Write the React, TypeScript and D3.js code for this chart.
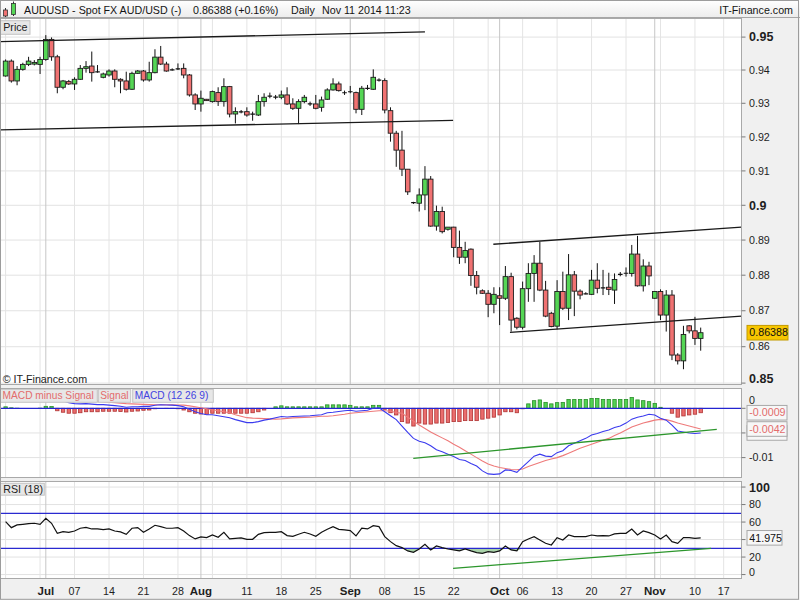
import React, { useEffect } from "react";
import * as d3 from "d3";

// ---------- DATA ----------
// Daily bars (FX: Mon-Fri plus a short Sunday session), year 2014
const dates = [
  "06-23","06-24","06-25","06-26","06-27","06-29",
  "06-30","07-01","07-02","07-03","07-04","07-06",
  "07-07","07-08","07-09","07-10","07-11","07-13",
  "07-14","07-15","07-16","07-17","07-18","07-20",
  "07-21","07-22","07-23","07-24","07-25","07-27",
  "07-28","07-29","07-30","07-31","08-01","08-03",
  "08-04","08-05","08-06","08-07","08-08","08-10",
  "08-11","08-12","08-13","08-14","08-15","08-17",
  "08-18","08-19","08-20","08-21","08-22","08-24",
  "08-25","08-26","08-27","08-28","08-29","08-31",
  "09-01","09-02","09-03","09-04","09-05","09-07",
  "09-08","09-09","09-10","09-11","09-12","09-14",
  "09-15","09-16","09-17","09-18","09-19","09-21",
  "09-22","09-23","09-24","09-25","09-26","09-28",
  "09-29","09-30","10-01","10-02","10-03","10-05",
  "10-06","10-07","10-08","10-09","10-10","10-12",
  "10-13","10-14","10-15","10-16","10-17","10-19",
  "10-20","10-21","10-22","10-23","10-24","10-26",
  "10-27","10-28","10-29","10-30","10-31","11-02",
  "11-03","11-04","11-05","11-06","11-07","11-09",
  "11-10","11-11",
];

const opens = [
  0.9382, 0.9427, 0.9367, 0.9402, 0.9417, 0.9418,
  0.9417, 0.9432, 0.9493, 0.9440, 0.9348, 0.9365,
  0.9358, 0.9372, 0.9405, 0.9412, 0.9395, 0.9378,
  0.9385, 0.9397, 0.9372, 0.9367, 0.9342, 0.9390,
  0.9397, 0.9370, 0.9392, 0.9439, 0.9418, 0.9400,
  0.9403, 0.9405, 0.9385, 0.9325, 0.9298, 0.9312,
  0.9305, 0.9332, 0.9305, 0.9350, 0.9268, 0.9275,
  0.9275, 0.9268, 0.9265, 0.9305, 0.9321, 0.9319,
  0.9318, 0.9325, 0.9298, 0.9285, 0.9305, 0.9299,
  0.9298, 0.9288, 0.9312, 0.9340, 0.9358, 0.9332,
  0.9334, 0.9332, 0.9282, 0.9344, 0.9342, 0.9370,
  0.9368, 0.9278, 0.9211, 0.9161, 0.9105, 0.9008,
  0.9006, 0.9030, 0.9076, 0.8940, 0.8982, 0.8931,
  0.8937, 0.8879, 0.8851, 0.8874, 0.8799, 0.8756,
  0.8749, 0.8718, 0.8742, 0.8735, 0.8796, 0.8679,
  0.8654, 0.8762, 0.8805, 0.8834, 0.8758, 0.8693,
  0.8657, 0.8754, 0.8707, 0.8801, 0.8755, 0.8747,
  0.8746, 0.8786, 0.8765, 0.8766, 0.8758, 0.8802,
  0.8805, 0.8805, 0.8860, 0.8770, 0.8826, 0.8735,
  0.8754, 0.8688, 0.8744, 0.8577, 0.8561, 0.8658,
  0.8644, 0.8623,
];
const highs = [
  0.9432, 0.9432, 0.9412, 0.9422, 0.9440, 0.9430,
  0.9440, 0.9506, 0.9499, 0.9446, 0.9370, 0.9370,
  0.9378, 0.9415, 0.9427, 0.9456, 0.9415, 0.9392,
  0.9402, 0.9402, 0.9375, 0.9395, 0.9395, 0.9400,
  0.9400, 0.9425, 0.9463, 0.9473, 0.9425, 0.9405,
  0.9420, 0.9420, 0.9388, 0.9330, 0.9338, 0.9313,
  0.9338, 0.9348, 0.9375, 0.9352, 0.9288, 0.9280,
  0.9288, 0.9275, 0.9325, 0.9330, 0.9332, 0.9325,
  0.9338, 0.9348, 0.9315, 0.9312, 0.9325, 0.9305,
  0.9325, 0.9320, 0.9345, 0.9375, 0.9365, 0.9338,
  0.9352, 0.9335, 0.9352, 0.9355, 0.9402, 0.9375,
  0.9375, 0.9288, 0.9218, 0.9218, 0.9105, 0.9010,
  0.9049, 0.9114, 0.9085, 0.8999, 0.8996, 0.8937,
  0.8938, 0.8927, 0.8895, 0.8876, 0.8812, 0.8760,
  0.8758, 0.8766, 0.8766, 0.8826, 0.8807, 0.8682,
  0.8782, 0.8834, 0.8857, 0.8895, 0.8784, 0.8697,
  0.8786, 0.8810, 0.8860, 0.8812, 0.8760, 0.8752,
  0.8815, 0.8834, 0.8815, 0.8807, 0.8805, 0.8809,
  0.8822, 0.8886, 0.8912, 0.8845, 0.8838, 0.8755,
  0.8760, 0.8758, 0.8758, 0.8582, 0.8658, 0.8660,
  0.8683, 0.8653,
];
const lows = [
  0.9380, 0.9362, 0.9354, 0.9398, 0.9412, 0.9414,
  0.9388, 0.9428, 0.9428, 0.9330, 0.9342, 0.9355,
  0.9340, 0.9370, 0.9392, 0.9365, 0.9392, 0.9375,
  0.9380, 0.9348, 0.9330, 0.9338, 0.9340, 0.9388,
  0.9365, 0.9365, 0.9390, 0.9415, 0.9395, 0.9398,
  0.9400, 0.9375, 0.9320, 0.9280, 0.9275, 0.9307,
  0.9302, 0.9292, 0.9290, 0.9258, 0.9240, 0.9270,
  0.9260, 0.9248, 0.9262, 0.9290, 0.9315, 0.9312,
  0.9312, 0.9295, 0.9280, 0.9238, 0.9300, 0.9292,
  0.9282, 0.9275, 0.9310, 0.9338, 0.9335, 0.9325,
  0.9330, 0.9270, 0.9265, 0.9340, 0.9340, 0.9365,
  0.9270, 0.9186, 0.9112, 0.9085, 0.9030, 0.9004,
  0.8982, 0.8986, 0.8938, 0.8927, 0.8919, 0.8927,
  0.8851, 0.8832, 0.8834, 0.8770, 0.8746, 0.8747,
  0.8682, 0.8693, 0.8660, 0.8730, 0.8642, 0.8648,
  0.8648, 0.8725, 0.8725, 0.8755, 0.8682, 0.8654,
  0.8648, 0.8702, 0.8674, 0.8685, 0.8732, 0.8746,
  0.8744, 0.8749, 0.8744, 0.8744, 0.8719, 0.8797,
  0.8796, 0.8796, 0.8768, 0.8754, 0.8772, 0.8733,
  0.8674, 0.8642, 0.8563, 0.8551, 0.8538, 0.8637,
  0.8605, 0.8589,
];
const closes = [
  0.9427, 0.9367, 0.9402, 0.9417, 0.9427, 0.9423,
  0.9432, 0.9493, 0.9440, 0.9348, 0.9367, 0.9358,
  0.9372, 0.9405, 0.9410, 0.9392, 0.9394, 0.9388,
  0.9397, 0.9372, 0.9367, 0.9342, 0.9390, 0.9397,
  0.9370, 0.9392, 0.9439, 0.9418, 0.9397, 0.9401,
  0.9404, 0.9385, 0.9325, 0.9298, 0.9315, 0.9308,
  0.9335, 0.9305, 0.9350, 0.9268, 0.9275, 0.9274,
  0.9265, 0.9267, 0.9305, 0.9318, 0.9322, 0.9318,
  0.9325, 0.9298, 0.9285, 0.9305, 0.9318, 0.9298,
  0.9285, 0.9310, 0.9340, 0.9358, 0.9338, 0.9331,
  0.9335, 0.9282, 0.9345, 0.9345, 0.9378, 0.9369,
  0.9280, 0.9211, 0.9161, 0.9105, 0.9039, 0.9007,
  0.9030, 0.9076, 0.8940, 0.8982, 0.8924, 0.8937,
  0.8879, 0.8851, 0.8870, 0.8799, 0.8766, 0.8749,
  0.8718, 0.8746, 0.8735, 0.8796, 0.8674, 0.8654,
  0.8762, 0.8805, 0.8834, 0.8758, 0.8685, 0.8656,
  0.8754, 0.8707, 0.8801, 0.8755, 0.8744, 0.8748,
  0.8786, 0.8763, 0.8764, 0.8760, 0.8788, 0.8803,
  0.8806, 0.8860, 0.8770, 0.8826, 0.8798, 0.8754,
  0.8688, 0.8744, 0.8577, 0.8561, 0.8634, 0.8644,
  0.8623, 0.86388,
];

// MACD (12 26 9), values in thousandths
const macdLine = [
  2.6, 2.45, 2.4, 2.4, 2.4, 2.4,
  2.45, 2.95, 2.95, 2.0, 1.55, 1.15,
  0.95, 0.9, 0.95, 0.85, 0.75, 0.75,
  0.65, 0.55, 0.4, 0.2, 0.3, 0.3,
  0.4, 0.4, 0.62, 0.72, 0.67, 0.65,
  0.55, 0.3, -0.2, -0.7, -1.05, -1.3,
  -1.3, -1.5, -1.7, -1.9, -2.3, -2.6,
  -2.9, -2.9, -2.7, -2.4, -2.2, -1.9,
  -1.65, -1.75, -1.65, -1.6, -1.55, -1.5,
  -1.4, -1.3, -0.9, -0.8, -0.65, -0.5,
  -0.4, -0.6, -0.5, -0.4, 0.0, 0.1,
  -0.7, -1.5, -2.3, -3.6, -4.9, -6.1,
  -6.7, -7.0, -7.6, -8.4, -8.8, -9.3,
  -9.8, -10.4, -10.6, -11.2, -11.7, -12.7,
  -13.3, -13.4, -13.3, -12.5, -12.6, -13.0,
  -11.9, -10.8, -9.7, -9.3, -9.7, -9.8,
  -9.0, -8.6, -7.6, -7.1, -6.6, -6.1,
  -5.4, -5.1, -4.7, -4.4, -3.9, -3.6,
  -3.0, -2.2, -1.8, -1.55, -1.2, -1.35,
  -2.0, -2.4, -3.4, -4.6, -4.8, -5.0,
  -5.1, -5.0,
];
const signalLine = [
  2.3, 2.35, 2.38, 2.4, 2.4, 2.4,
  2.42, 2.55, 2.6, 2.5, 2.35, 2.15,
  1.95, 1.8, 1.65, 1.55, 1.45, 1.35,
  1.25, 1.15, 1.05, 0.95, 0.9, 0.85,
  0.8, 0.75, 0.72, 0.72, 0.72, 0.7,
  0.65, 0.65, 0.5, 0.3, 0.1, -0.1,
  -0.3, -0.5, -0.7, -0.9, -1.3, -1.6,
  -1.9, -2.0, -2.05, -2.1, -2.15, -2.2,
  -2.15, -2.05, -1.95, -1.9, -1.85, -1.8,
  -1.7, -1.6, -1.6, -1.5, -1.35, -1.2,
  -1.0, -0.9, -0.8, -0.7, -0.6, -0.5,
  -0.5, -0.6, -0.85, -1.0, -1.8, -2.6,
  -3.4, -4.1, -4.8, -5.4, -6.0, -6.6,
  -7.3, -7.9, -8.6, -9.3, -10.0, -10.7,
  -11.3, -11.7, -12.0, -12.2, -12.4, -12.45,
  -12.3, -11.8, -11.4, -11.0, -10.6, -10.3,
  -10.0, -9.6, -9.1, -8.6, -8.1, -7.7,
  -7.3, -6.9, -6.5, -6.1, -5.5, -5.0,
  -4.4, -3.8, -3.4, -3.0, -2.7, -2.4,
  -2.25, -2.3, -2.6, -3.0, -3.3, -3.6,
  -3.9, -4.2,
];
const macdHist = [
  0.3, 0.1, 0.02, 0, 0, 0,
  0.03, 0.4, 0.35, -0.5, -0.8, -1.0,
  -1.0, -0.9, -0.7, -0.7, -0.7, -0.6,
  -0.6, -0.6, -0.65, -0.75, -0.6, -0.55,
  -0.4, -0.35, -0.1, 0, -0.05, -0.05,
  -0.1, -0.35, -0.7, -1.0, -1.15, -1.2,
  -1.0, -1.0, -1.0, -1.0, -1.0, -1.0,
  -1.0, -0.9, -0.7, -0.35, 0, 0.3,
  0.5, 0.3, 0.3, 0.3, 0.3, 0.3,
  0.3, 0.3, 0.7, 0.7, 0.7, 0.7,
  0.6, 0.3, 0.3, 0.3, 0.6, 0.6,
  -0.2, -0.9, -1.35, -2.7, -3.0, -3.6,
  -3.0, -3.2, -3.2, -3.0, -3.0, -2.9,
  -2.7, -2.7, -2.5, -2.5, -2.5, -2.2,
  -2.0, -1.8, -1.35, -0.7, -0.7, -0.9,
  -0.1, 0.9, 1.55, 1.7, 1.2, 0.9,
  1.15, 1.2, 1.8, 1.8, 1.8, 1.8,
  2.0, 2.0, 1.8, 1.8, 1.8, 1.8,
  1.8, 2.2, 1.7, 1.55, 1.35, 1.0,
  0.2, 0, -1.0, -1.8, -1.55, -1.35,
  -1.2, -0.9,
];

// RSI (18)
const rsiValues = [
  60.5, 53.6, 56.7, 57.4, 58.2, 58.6,
  57.4, 64.3, 58.6, 47.1, 49.0, 48.3,
  49.8, 52.9, 54.0, 52.1, 52.1, 51.3,
  52.1, 49.8, 48.7, 46.0, 52.9, 53.6,
  48.3, 52.1, 56.3, 54.8, 52.9, 52.9,
  53.6, 49.8, 44.5, 40.7, 43.0, 42.2,
  45.2, 42.6, 48.3, 40.7, 41.4, 41.8,
  40.3, 40.3, 46.0, 47.9, 48.3, 48.3,
  49.0, 44.5, 43.7, 46.0, 48.3, 46.4,
  43.7, 48.3, 51.7, 54.8, 51.7, 51.0,
  50.2, 44.1, 52.9, 52.1, 55.9, 54.8,
  43.3, 37.6, 33.0, 30.8, 27.0, 25.4,
  29.2, 34.6, 28.1, 32.7, 30.8, 29.2,
  28.1, 27.0, 29.2, 27.0, 25.0, 24.3,
  26.2, 25.4, 27.0, 32.7, 28.1, 27.0,
  37.6, 40.7, 43.3, 39.5, 35.7, 33.8,
  42.2, 39.5, 45.2, 43.3, 43.3, 43.3,
  45.2, 44.1, 44.5, 44.1, 46.4, 47.1,
  47.1, 52.1, 45.2, 49.8, 47.9, 45.2,
  40.7, 45.2, 37.6, 35.7, 42.2, 42.2,
  41.4, 41.975,
];

// Axis ticks
const priceTicks = [0.85, 0.86, 0.87, 0.88, 0.89, 0.9, 0.91, 0.92, 0.93, 0.94, 0.95];
const priceTickLabels = ["0.85", "0.86", "0.87", "0.88", "0.89", "0.9", "0.91", "0.92", "0.93", "0.94", "0.95"];
const boldPriceTicks = [0.85, 0.9, 0.95];
const macdGridTicks = [-5, -10];
const macdTicks = [0, -10];
const macdTickLabels = ["0", "-0.01"];
const rsiTicks = [0, 20, 40, 60, 80, 100];
const rsiLabelTicks = [0, 20, 60, 80, 100]; // 40 sits behind the value box
const rsiLevels = [30, 70];
const mondayDates = [
  "06-23","06-30","07-07","07-14","07-21","07-28","08-04","08-11","08-18","08-25",
  "09-01","09-08","09-15","09-22","09-29","10-06","10-13","10-20","10-27","11-03","11-10","11-17",
];
const monthStartDates = ["07-01", "08-01", "09-01", "10-01", "11-02"];
const xTickDates = [
  "07-01","07-07","07-14","07-21","07-28","08-01","08-11","08-18","08-25","09-01",
  "09-08","09-15","09-22","10-01","10-06","10-13","10-20","10-27","11-02","11-10","11-17",
];
const xTickLabels = [
  "Jul","07","14","21","28","Aug","11","18","25","Sep",
  "08","15","22","Oct","06","13","20","27","Nov","10","17",
];

// Drawn trend lines (bar index, value)
const priceTrends = [
  { i0: -0.975, v0: 0.9486, i1: 73.0, v1: 0.9516 },
  { i0: -0.975, v0: 0.9221, i1: 77.9, v1: 0.9249 },
  { i0: 84.9, v0: 0.8888, i1: 128.1, v1: 0.8937 },
  { i0: 87.8, v0: 0.8640, i1: 128.1, v1: 0.8685 },
];
const macdTrend = { i0: 70.97, v0: -10.14, i1: 123.8, v1: -4.26 };
const rsiTrend = { i0: 77.9, v0: 7.1, i1: 122.8, v1: 30.0 };

const headerTitle = "AUDUSD - Spot FX AUD/USD (-)";
const headerQuote = "0.86388 (+0.16%)";
const headerPeriod = "Daily";
const headerTime = "Nov 11 2014 11:23";

// ---------- CHART ----------
const FONT = "'Liberation Sans', Arial, Helvetica, sans-serif";
const FS = 10.7;
const RIGHT = 741.5;
const PANELS = {
  price: { top: 18.5, bottom: 384.5 },
  macd: { top: 388.5, bottom: 477.5 },
  rsi: { top: 481.5, bottom: 578.5 },
};
const GREEN = "#55d655";
const RED = "#f07272";

function idxOfDate(d: string): number {
  const i = dates.indexOf(d);
  if (i >= 0) return i;
  const last = new Date(`2014-${dates[dates.length - 1]}T00:00:00Z`);
  const target = new Date(`2014-${d}T00:00:00Z`);
  let n = dates.length - 1;
  const cur = new Date(last.getTime());
  while (cur < target) {
    cur.setUTCDate(cur.getUTCDate() + 1);
    const wd = cur.getUTCDay();
    if (wd !== 0 && wd !== 6) n++;
  }
  return n;
}

function clampLabel(y: number, top: number, bottom: number) {
  return Math.max(top + 6, Math.min(bottom - 6, y));
}

export default function App() {
  useEffect(() => {
    document.body.style.margin = "0";
  }, []);

  const n = dates.length;
  const x = d3.scaleLinear().domain([0, n - 1]).range([5.6, 700.7]);
  const yP = d3.scaleLog().domain([0.85, 0.95]).range([383.1, 37.1]);
  const yM = d3.scaleLinear().domain([-10, 0]).range([457.6, 408.3]);
  const yR = d3.scaleLinear().domain([30, 70]).range([548.3, 513.3]);

  const gridX = mondayDates.map((d) => ({ x: x(idxOfDate(d)), month: false }))
    .concat(monthStartDates.map((d) => ({ x: x(idxOfDate(d)), month: true })));

  const macdPath = d3.line<number>().x((_, i) => x(i)).y((v) => yM(v))(macdLine) || "";
  const signalPath = d3.line<number>().x((_, i) => x(i)).y((v) => yM(v))(signalLine) || "";
  const rsiPath = d3.line<number>().x((_, i) => x(i)).y((v) => yR(v))(rsiValues) || "";
  const rsiFill = d3.area<number>().x((_, i) => x(i)).y0(yR(30)).y1((v) => yR(Math.min(v, 30)))(rsiValues) || "";

  const vGrid = (top: number, bottom: number) =>
    gridX.map((g, i) => (
      <line key={"vg" + i} x1={g.x} x2={g.x} y1={top} y2={bottom}
        stroke={g.month ? "#c6c6c6" : "#e4e4e4"} strokeWidth={1} />
    ));

  const panelRect = (p: { top: number; bottom: number }, key: string) => (
    <rect key={key} x={0.5} y={p.top} width={RIGHT - 0.5} height={p.bottom - p.top} fill="white" />
  );
  const panelBorder = (p: { top: number; bottom: number }, key: string) => (
    <rect key={key} x={0.5} y={p.top} width={RIGHT - 0.5} height={p.bottom - p.top} fill="none" stroke="#a9a9a9" strokeWidth={1} />
  );

  const candleW = 4.6;
  const candles = dates.map((_, i) => {
    const o = opens[i], c = closes[i], h = highs[i], l = lows[i];
    const cx = x(i);
    const up = c >= o;
    const yTop = yP(Math.max(o, c));
    const yBot = yP(Math.min(o, c));
    const bh = yBot - yTop;
    return (
      <g key={"c" + i}>
        <line x1={cx} x2={cx} y1={yP(h)} y2={yP(l)} stroke="#111" strokeWidth={1} />
        {bh < 1.2 ? (
          <line x1={cx - candleW / 2} x2={cx + candleW / 2} y1={(yTop + yBot) / 2} y2={(yTop + yBot) / 2} stroke="#111" strokeWidth={1.2} />
        ) : (
          <rect x={cx - candleW / 2} y={yTop} width={candleW} height={bh}
            fill={up ? GREEN : RED} stroke="#1c1c1c" strokeWidth={0.9} />
        )}
      </g>
    );
  });

  const histW = 3.4;
  const histBars = macdHist.map((v, i) => {
    if (v === 0) return null;
    const y0 = yM(0), y1 = yM(v);
    return (
      <rect key={"h" + i} x={x(i) - histW / 2} y={Math.min(y0, y1)} width={histW} height={Math.abs(y1 - y0)}
        fill={v > 0 ? "#52d252" : "#ea6d6d"} stroke={v > 0 ? "#2a8f2a" : "#b03434"} strokeWidth={0.8} />
    );
  });

  const axisTick = (y: number, key: string) => (
    <line key={key} x1={RIGHT} x2={RIGHT + 4} y1={y} y2={y} stroke="#7a7a7a" />
  );
  const axisLabel = (y: number, text: string, bold: boolean, key: string, top: number, bottom: number) => (
    <g key={key}>
      {axisTick(y, key + "t")}
      <text x={749} y={clampLabel(y, top, bottom)} dy="0.35em" fontSize={bold ? 12.5 : FS}
        fontWeight={bold ? "bold" : "normal"} fill="#1e1e1e">{text}</text>
    </g>
  );

  const valueBox = (yc: number, text: string | null, w: number, fill: string, stroke: string, color: string, key: string) => (
    <g key={key}>
      <rect x={747} y={yc - 7.3} width={w} height={14.6} fill={fill} stroke={stroke} strokeWidth={1} />
      {text !== null && <text x={749.3} y={yc} dy="0.35em" fontSize={FS} fill={color}>{text}</text>}
    </g>
  );

  const legendBox = (x0: number, w: number, y0: number, h: number, text: string, color: string, key: string) => (
    <g key={key}>
      <rect x={x0} y={y0} width={w} height={h} fill="#e7e7e7" stroke="#c3c3c3" strokeWidth={1} />
      <text x={x0 + 2} y={y0 + h - 3.3} fontSize={10.2} fill={color}>{text}</text>
    </g>
  );

  const lastClose = closes[n - 1];
  const lastRsi = rsiValues[n - 1];

  return (
    <svg width={800} height={600} style={{ position: "absolute", left: 0, top: 0, display: "block" }} fontFamily={FONT}>
      <defs>
        <linearGradient id="hdr" x1="0" y1="0" x2="0" y2="1">
          <stop offset="0" stopColor="#ffffff" />
          <stop offset="1" stopColor="#ececec" />
        </linearGradient>
        <clipPath id="clipP"><rect x={0} y={PANELS.price.top} width={RIGHT} height={PANELS.price.bottom - PANELS.price.top} /></clipPath>
        <clipPath id="clipM"><rect x={0} y={PANELS.macd.top} width={RIGHT} height={PANELS.macd.bottom - PANELS.macd.top} /></clipPath>
        <clipPath id="clipR"><rect x={0} y={PANELS.rsi.top} width={RIGHT} height={PANELS.rsi.bottom - PANELS.rsi.top} /></clipPath>
      </defs>
      <rect x={0} y={0} width={800} height={600} fill="#f0f0f0" />

      {/* header */}
      <rect x={0} y={0} width={800} height={17.5} fill="url(#hdr)" />
      <line x1={0} x2={800} y1={17.5} y2={17.5} stroke="#a6a6a6" />
      <line x1={5.5} x2={5.5} y1={8} y2={17} stroke="#333" />
      <rect x={3.5} y={10} width={4} height={6} fill={RED} stroke="#333" strokeWidth={0.8} />
      <line x1={13.5} x2={13.5} y1={1.5} y2={16} stroke="#333" />
      <rect x={11.5} y={3.5} width={4} height={11} fill={GREEN} stroke="#333" strokeWidth={0.8} />
      <text x={24} y={14.3} fontSize={FS} fill="#141414">{headerTitle}</text>
      <text x={193} y={14.3} fontSize={FS} fill="#141414">{headerQuote}</text>
      <text x={291} y={14.3} fontSize={FS} fill="#141414">{headerPeriod}</text>
      <text x={322} y={14.3} fontSize={FS} fill="#141414">{headerTime}</text>
      <text x={793} y={14.3} fontSize={FS} fill="#141414" textAnchor="end">IT-Finance.com</text>

      {/* ===== PRICE PANEL ===== */}
      {panelRect(PANELS.price, "pp")}
      <g clipPath="url(#clipP)">
        {priceTicks.map((t, i) => (
          <line key={"pg" + i} x1={0} x2={RIGHT} y1={yP(t)} y2={yP(t)} stroke="#e2e2e2" />
        ))}
        {vGrid(PANELS.price.top, PANELS.price.bottom)}
        {candles}
        {priceTrends.map((t, i) => (
          <line key={"pt" + i} x1={x(t.i0)} y1={yP(t.v0)} x2={x(t.i1)} y2={yP(t.v1)} stroke="#1a1a1a" strokeWidth={1.3} />
        ))}
      </g>
      <rect x={0.5} y={20.7} width={29.5} height={13.6} fill="#e7e7e7" stroke="#c3c3c3" />
      <text x={3.2} y={30.8} fontSize={FS} fill="#222">Price</text>
      <text x={2.7} y={383} fontSize={FS} fill="#222">© IT-Finance.com</text>
      {panelBorder(PANELS.price, "pb")}
      {priceTicks.map((t, i) =>
        axisLabel(yP(t), priceTickLabels[i], boldPriceTicks.includes(t), "pl" + i, PANELS.price.top, PANELS.price.bottom)
      )}
      {valueBox(yP(lastClose), lastClose.toFixed(5), 41, "#f7c600", "#c39a00", "#111", "pv")}

      {/* ===== MACD PANEL ===== */}
      {panelRect(PANELS.macd, "mp")}
      <g clipPath="url(#clipM)">
        {macdGridTicks.map((t, i) => (
          <line key={"mg" + i} x1={0} x2={RIGHT} y1={yM(t)} y2={yM(t)} stroke="#e2e2e2" />
        ))}
        {vGrid(PANELS.macd.top, PANELS.macd.bottom)}
        {histBars}
        <line x1={0} x2={RIGHT} y1={yM(0)} y2={yM(0)} stroke="#2424d0" strokeWidth={1.3} />
        <path d={signalPath} fill="none" stroke="#ee7a7a" strokeWidth={1.1} />
        <path d={macdPath} fill="none" stroke="#3a3aee" strokeWidth={1.1} />
        <line x1={x(macdTrend.i0)} y1={yM(macdTrend.v0)} x2={x(macdTrend.i1)} y2={yM(macdTrend.v1)} stroke="#2c962c" strokeWidth={1.3} />
      </g>
      {legendBox(0.5, 96.8, 389.3, 13, "MACD minus Signal", "#e36c6c", "l1")}
      {legendBox(98.3, 32.4, 389.3, 13, "Signal", "#e36c6c", "l2")}
      {legendBox(132.7, 80.6, 389.3, 13, "MACD (12 26 9)", "#4343e0", "l3")}
      {panelBorder(PANELS.macd, "mb")}
      {axisTick(yM(-5), "mt5")}
      {axisTick(yM(0), "mt0")}
      <text x={749} y={400.3} dy="0.35em" fontSize={FS} fill="#1e1e1e">{macdTickLabels[0]}</text>
      {axisLabel(yM(macdTicks[1]), macdTickLabels[1], false, "ml1", PANELS.macd.top, PANELS.macd.bottom)}
      {valueBox(yM(macdLine[n - 1]), null, 40, "#f7f7f7", "#a8a8a8", "#3a3aee", "mv1")}
      {valueBox(yM(signalLine[n - 1]), (signalLine[n - 1] / 1000).toFixed(4), 40, "#f7f7f7", "#a8a8a8", "#e36c6c", "mv2")}
      {valueBox(yM(macdHist[n - 1]), (macdHist[n - 1] / 1000).toFixed(4), 40, "#f7f7f7", "#a8a8a8", "#e36c6c", "mv3")}

      {/* ===== RSI PANEL ===== */}
      {panelRect(PANELS.rsi, "rp")}
      <g clipPath="url(#clipR)">
        {rsiTicks.map((t, i) => (
          <line key={"rg" + i} x1={0} x2={RIGHT} y1={yR(t)} y2={yR(t)} stroke="#e2e2e2" />
        ))}
        {vGrid(PANELS.rsi.top, PANELS.rsi.bottom)}
        <path d={rsiFill} fill="#a9d2a9" stroke="none" />
        {rsiLevels.map((t, i) => (
          <line key={"rl" + i} x1={0} x2={RIGHT} y1={yR(t)} y2={yR(t)} stroke="#2a2ad0" strokeWidth={1.3} />
        ))}
        <line x1={x(rsiTrend.i0)} y1={yR(rsiTrend.v0)} x2={x(rsiTrend.i1)} y2={yR(rsiTrend.v1)} stroke="#2c962c" strokeWidth={1.3} />
        <path d={rsiPath} fill="none" stroke="#111" strokeWidth={1.2} />
      </g>
      <rect x={0.5} y={483.3} width={43.8} height={11.9} fill="#e7e7e7" stroke="#c3c3c3" />
      <text x={3.2} y={492.8} fontSize={FS} fill="#222">RSI (18)</text>
      {panelBorder(PANELS.rsi, "rb")}
      {axisTick(yR(40), "rt40")}
      {rsiLabelTicks.map((t, i) =>
        axisLabel(yR(t), String(t), t === 100, "rl" + i, PANELS.rsi.top, PANELS.rsi.bottom)
      )}
      {valueBox(yR(lastRsi), lastRsi.toFixed(3), 35, "#f7f7f7", "#a8a8a8", "#111", "rv")}

      {/* ===== X AXIS ===== */}
      {xTickDates.map((d, i) => {
        const isMonth = monthStartDates.includes(d);
        return (
          <text key={"xt" + i} x={x(idxOfDate(d))} y={594.5} textAnchor="middle"
            fontSize={isMonth ? 11.5 : FS} fontWeight={isMonth ? "bold" : "normal"} fill="#1e1e1e">
            {xTickLabels[i]}
          </text>
        );
      })}

      <rect x={0.5} y={0.5} width={798} height={598.8} fill="none" stroke="#9c9c9c" />
    </svg>
  );
}
